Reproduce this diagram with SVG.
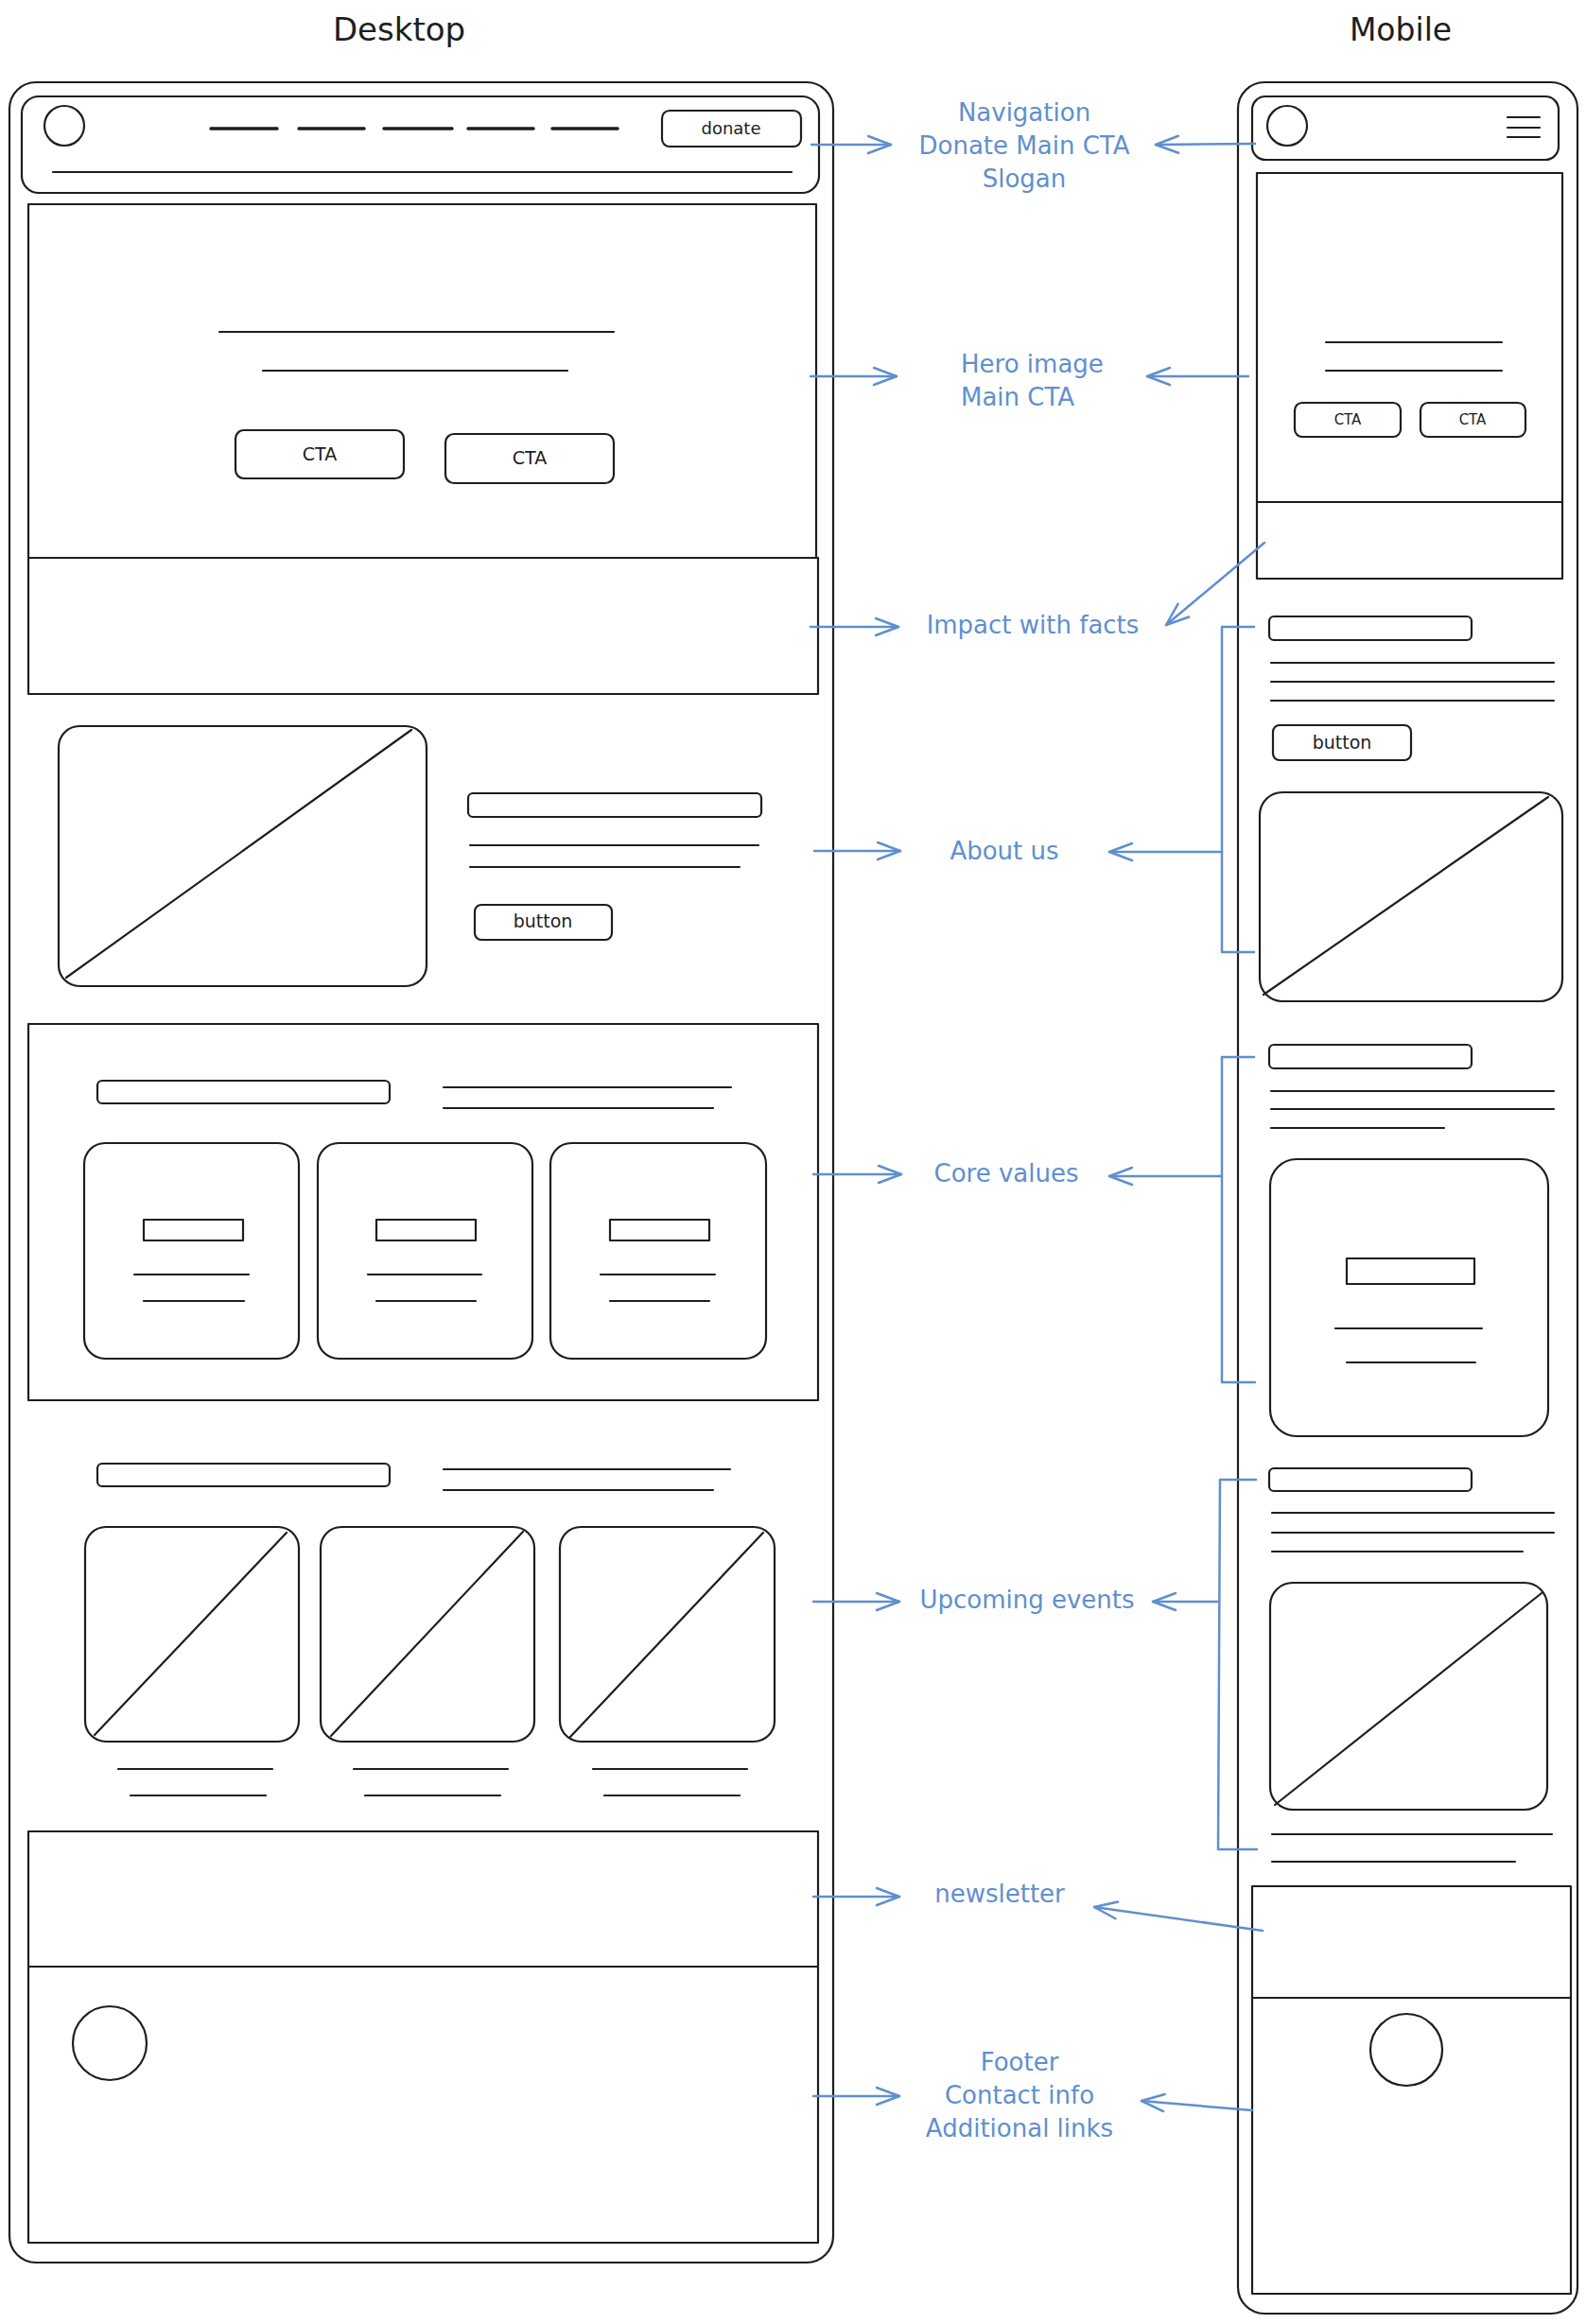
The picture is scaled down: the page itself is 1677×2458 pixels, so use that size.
<svg xmlns="http://www.w3.org/2000/svg" width="1677" height="2458" viewBox="0 0 1677 2458">
<style>
.s{fill:#fff;stroke:#1e1e1e;stroke-width:2.2;stroke-linecap:round;stroke-linejoin:round}
.n{fill:none;stroke:#1e1e1e;stroke-width:2.2;stroke-linecap:round;stroke-linejoin:round}
.k{fill:none;stroke:#1e1e1e;stroke-width:3.5;stroke-linecap:round}
.b{fill:none;stroke:#5f8fd0;stroke-width:2.5;stroke-linecap:round;stroke-linejoin:round}
.lbl{font-family:"DejaVu Sans","Liberation Sans",sans-serif;font-size:26px;fill:#5f8fd0}
.t{font-family:"DejaVu Sans","Liberation Sans",sans-serif;fill:#1e1e1e}
</style>
<defs>
<marker id="ah" viewBox="-30 -15 35 30" refX="0" refY="0" markerWidth="35" markerHeight="30" markerUnits="userSpaceOnUse" orient="auto">
<path d="M-24 -9 L0 0 L-24 9" fill="none" stroke="#5f8fd0" stroke-width="2.5" stroke-linecap="round" stroke-linejoin="round"/>
</marker>
</defs>
<rect width="1677" height="2458" fill="#fff"/>

<g id="title-desktop"><text class="t" x="422" y="43" font-size="34" text-anchor="middle">Desktop</text></g>
<g id="title-mobile"><text class="t" x="1481" y="43" font-size="33" text-anchor="middle">Mobile</text></g>

<!-- Desktop -->
<g id="desktop-frame"><rect class="s" x="10" y="87" width="871" height="2306" rx="28"/></g>
<g id="desktop-header">
<rect class="s" x="23" y="102" width="843" height="102" rx="18"/>
<circle class="n" cx="68" cy="133" r="21"/>
<path class="k" d="M223 136H293M316 136H385M406 136H478M495 136H564M584 136H653"/>
<rect class="s" x="700" y="117" width="147" height="38" rx="8"/>
<text class="t" x="773" y="142" font-size="18" text-anchor="middle">donate</text>
<path class="n" d="M56 182H837"/>
</g>
<g id="desktop-hero">
<rect class="s" x="30" y="216" width="833" height="374"/>
<path class="n" d="M232 351H649M278 392H600"/>
<rect class="s" x="249" y="455" width="178" height="51" rx="9"/>
<text class="t" x="338" y="487" font-size="19" text-anchor="middle">CTA</text>
<rect class="s" x="471" y="459" width="178" height="52" rx="9"/>
<text class="t" x="560" y="491" font-size="19" text-anchor="middle">CTA</text>
</g>
<g id="desktop-impact">
<rect class="s" x="30" y="590" width="835" height="144"/>
<path class="n" d="M30 590H865" stroke-width="3.5"/>
</g>
<g id="desktop-about">
<rect class="s" x="62" y="768" width="389" height="275" rx="22"/>
<path class="n" d="M70 1034L435 772" stroke-width="2.5"/>
<rect class="s" x="495" y="839" width="310" height="25" rx="5"/>
<path class="n" d="M497 894H802M497 917H782" stroke-width="3"/>
<rect class="s" x="502" y="957" width="145" height="37" rx="7"/>
<text class="t" x="574" y="981" font-size="19" text-anchor="middle">button</text>
</g>
<g id="desktop-core">
<rect class="s" x="30" y="1083" width="835" height="398"/>
<rect class="s" x="103" y="1143" width="309" height="24" rx="5"/>
<path class="n" d="M469 1150H773M469 1172H754" stroke-width="3"/>
<rect class="s" x="89" y="1209" width="227" height="228" rx="22"/>
<rect class="s" x="336" y="1209" width="227" height="228" rx="22"/>
<rect class="s" x="582" y="1209" width="228" height="228" rx="22"/>
<rect class="s" x="152" y="1290" width="105" height="22"/>
<rect class="s" x="398" y="1290" width="105" height="22"/>
<rect class="s" x="645" y="1290" width="105" height="22"/>
<path class="n" d="M142 1348H263M389 1348H509M635 1348H756M152 1376H258M398 1376H503M645 1376H750"/>
</g>
<g id="desktop-events">
<rect class="s" x="103" y="1548" width="309" height="24" rx="5"/>
<path class="n" d="M469 1554H772M469 1576H754" stroke-width="3"/>
<rect class="s" x="90" y="1615" width="226" height="227" rx="22"/>
<rect class="s" x="339" y="1615" width="226" height="227" rx="22"/>
<rect class="s" x="592" y="1615" width="227" height="227" rx="22"/>
<path class="n" d="M100 1835L303 1621M350 1836L553 1620M603 1837L807 1621"/>
<path class="n" d="M125 1871H288M374 1871H537M627 1871H790M138 1899H281M386 1899H529M639 1899H782"/>
</g>
<g id="desktop-newsletter"><rect class="s" x="30" y="1937" width="835" height="143"/></g>
<g id="desktop-footer">
<rect class="s" x="30" y="2080" width="835" height="292"/>
<path class="n" d="M30 2080H865" stroke-width="3.5"/>
<circle class="n" cx="116" cy="2161" r="39"/>
</g>

<!-- Mobile -->
<g id="mobile-frame"><rect class="s" x="1309" y="87" width="359" height="2360" rx="28"/></g>
<g id="mobile-header">
<rect class="s" x="1324" y="102" width="324" height="67" rx="14"/>
<circle class="n" cx="1361" cy="133" r="21"/>
<path class="n" d="M1594 124H1628M1594 135H1628M1594 145H1628"/>
</g>
<g id="mobile-hero">
<rect class="s" x="1329" y="183" width="323" height="348"/>
<path class="n" d="M1402 362H1588M1402 392H1588"/>
<rect class="s" x="1369" y="426" width="112" height="36" rx="8"/>
<text class="t" x="1425" y="449" font-size="15" text-anchor="middle">CTA</text>
<rect class="s" x="1502" y="426" width="111" height="36" rx="8"/>
<text class="t" x="1557" y="449" font-size="15" text-anchor="middle">CTA</text>
</g>
<g id="mobile-impact"><rect class="s" x="1329" y="531" width="323" height="81"/></g>
<g id="mobile-about">
<rect class="s" x="1342" y="652" width="214" height="25" rx="5"/>
<path class="n" d="M1344 701H1643M1344 721H1643M1344 741H1643"/>
<rect class="s" x="1346" y="767" width="146" height="37" rx="7"/>
<text class="t" x="1419" y="792" font-size="19" text-anchor="middle">button</text>
<rect class="s" x="1332" y="838" width="320" height="221" rx="24"/>
<path class="n" d="M1336 1052L1637 843" stroke-width="2.5"/>
</g>
<g id="mobile-core">
<rect class="s" x="1342" y="1105" width="214" height="25" rx="5"/>
<path class="n" d="M1344 1154H1643M1344 1173H1643M1344 1193H1527"/>
<rect class="s" x="1343" y="1226" width="294" height="293" rx="28"/>
<rect class="s" x="1424" y="1331" width="135" height="27"/>
<path class="n" d="M1412 1405H1567M1424 1441H1560"/>
</g>
<g id="mobile-events">
<rect class="s" x="1342" y="1553" width="214" height="24" rx="5"/>
<path class="n" d="M1345 1600H1643M1345 1621H1643M1345 1641H1610"/>
<rect class="s" x="1343" y="1674" width="293" height="240" rx="24"/>
<path class="n" d="M1348 1909L1630 1685" stroke-width="2.5"/>
<path class="n" d="M1345 1940H1641M1345 1969H1602"/>
</g>
<g id="mobile-newsletter"><rect class="s" x="1324" y="1995" width="337" height="118"/></g>
<g id="mobile-footer">
<rect class="s" x="1324" y="2113" width="337" height="313"/>
<circle class="n" cx="1487" cy="2168" r="38"/>
</g>

<!-- Labels -->
<g id="label-navigation">
<text class="lbl" x="1083" y="128" text-anchor="middle">Navigation</text>
<text class="lbl" x="1083" y="163" text-anchor="middle">Donate Main CTA</text>
<text class="lbl" x="1083" y="198" text-anchor="middle">Slogan</text>
</g>
<g id="label-hero">
<text class="lbl" x="1016" y="394">Hero image</text>
<text class="lbl" x="1016" y="429">Main CTA</text>
</g>
<g id="label-impact"><text class="lbl" x="1092" y="670" text-anchor="middle">Impact with facts</text></g>
<g id="label-about"><text class="lbl" x="1062" y="909" text-anchor="middle">About us</text></g>
<g id="label-core"><text class="lbl" x="1064" y="1250" text-anchor="middle">Core values</text></g>
<g id="label-events"><text class="lbl" x="1086" y="1701" text-anchor="middle">Upcoming events</text></g>
<g id="label-newsletter"><text class="lbl" x="1057" y="2012" text-anchor="middle">newsletter</text></g>
<g id="label-footer">
<text class="lbl" x="1078" y="2190" text-anchor="middle">Footer</text>
<text class="lbl" x="1078" y="2225" text-anchor="middle">Contact info</text>
<text class="lbl" x="1078" y="2260" text-anchor="middle">Additional links</text>
</g>

<!-- Connectors -->
<g id="connectors">
<path class="b" d="M858 153H942" marker-end="url(#ah)"/>
<path class="b" d="M1327 152L1222 153" marker-end="url(#ah)"/>
<path class="b" d="M857 398H948" marker-end="url(#ah)"/>
<path class="b" d="M1320 398H1213" marker-end="url(#ah)"/>
<path class="b" d="M857 663H950" marker-end="url(#ah)"/>
<path class="b" d="M1337 574L1233 661" marker-end="url(#ah)"/>
<path class="b" d="M861 900H952" marker-end="url(#ah)"/>
<path class="b" d="M1292 901H1173" marker-end="url(#ah)"/>
<path class="b" d="M1326 663H1292V1007H1326"/>
<path class="b" d="M860 1242H953" marker-end="url(#ah)"/>
<path class="b" d="M1291 1244H1173" marker-end="url(#ah)"/>
<path class="b" d="M1326 1118H1292V1462H1327"/>
<path class="b" d="M860 1694H951" marker-end="url(#ah)"/>
<path class="b" d="M1288 1694H1219" marker-end="url(#ah)"/>
<path class="b" d="M1328 1565H1290L1288 1956H1329"/>
<path class="b" d="M860 2006H951" marker-end="url(#ah)"/>
<path class="b" d="M1335 2042L1157 2017" marker-end="url(#ah)"/>
<path class="b" d="M860 2217H951" marker-end="url(#ah)"/>
<path class="b" d="M1324 2232L1207 2222" marker-end="url(#ah)"/>
</g>
</svg>
